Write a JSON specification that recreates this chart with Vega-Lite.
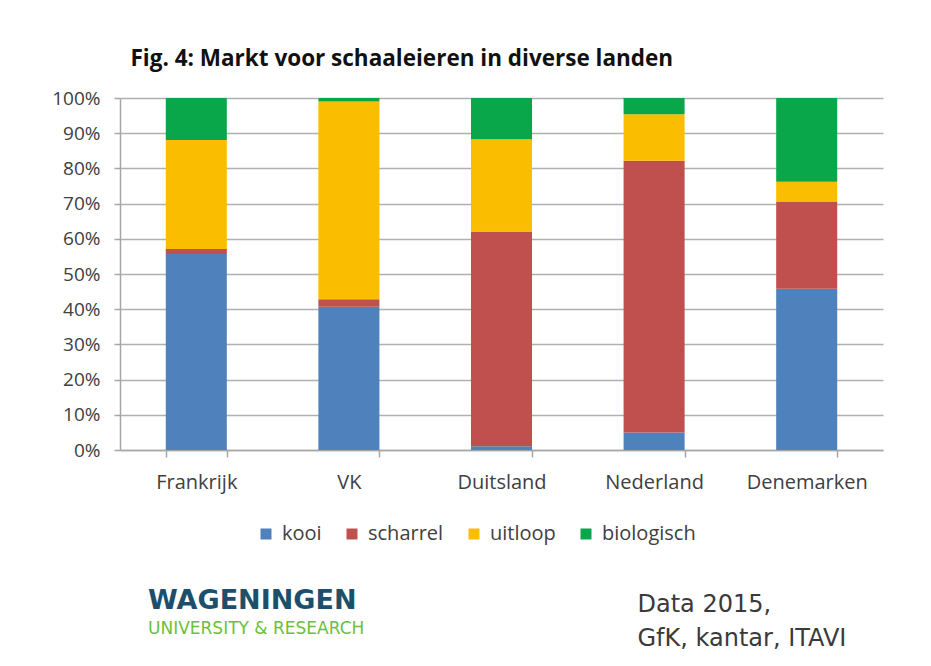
{
  "$schema": "https://vega.github.io/schema/vega-lite/v6.json",
  "width": 763,
  "height": 352,
  "autosize": {"type": "none"},
  "padding": {"left": 120, "top": 98, "right": 48, "bottom": 216},
  "background": "white",
  "title": {
    "text": "WAGENINGEN",
    "subtitle": "UNIVERSITY & RESEARCH",
    "orient": "bottom",
    "anchor": "start",
    "frame": "group",
    "offset": 0,
    "dy": -62,
    "dx": 28,
    "font": "DejaVu Sans",
    "fontSize": 27,
    "fontWeight": "bold",
    "color": "#1d4f6c",
    "subtitleFont": "DejaVu Sans",
    "subtitleFontSize": 17,
    "subtitleColor": "#6cbf3a",
    "subtitlePadding": 6
  },
  "data": {
    "values": [
      {"land": "Frankrijk", "type": "kooi", "k": 1, "aandeel": 55.7},
      {"land": "Frankrijk", "type": "scharrel", "k": 2, "aandeel": 1.4},
      {"land": "Frankrijk", "type": "uitloop", "k": 3, "aandeel": 31.0},
      {"land": "Frankrijk", "type": "biologisch", "k": 4, "aandeel": 11.9},
      {"land": "VK", "type": "kooi", "k": 1, "aandeel": 40.7},
      {"land": "VK", "type": "scharrel", "k": 2, "aandeel": 2.1},
      {"land": "VK", "type": "uitloop", "k": 3, "aandeel": 56.2},
      {"land": "VK", "type": "biologisch", "k": 4, "aandeel": 1.0},
      {"land": "Duitsland", "type": "kooi", "k": 1, "aandeel": 1.1},
      {"land": "Duitsland", "type": "scharrel", "k": 2, "aandeel": 61.0},
      {"land": "Duitsland", "type": "uitloop", "k": 3, "aandeel": 26.2},
      {"land": "Duitsland", "type": "biologisch", "k": 4, "aandeel": 11.7},
      {"land": "Nederland", "type": "kooi", "k": 1, "aandeel": 5.0},
      {"land": "Nederland", "type": "scharrel", "k": 2, "aandeel": 77.2},
      {"land": "Nederland", "type": "uitloop", "k": 3, "aandeel": 13.2},
      {"land": "Nederland", "type": "biologisch", "k": 4, "aandeel": 4.6},
      {"land": "Denemarken", "type": "kooi", "k": 1, "aandeel": 45.8},
      {"land": "Denemarken", "type": "scharrel", "k": 2, "aandeel": 24.8},
      {"land": "Denemarken", "type": "uitloop", "k": 3, "aandeel": 5.6},
      {"land": "Denemarken", "type": "biologisch", "k": 4, "aandeel": 23.8}
    ]
  },
  "mark": {"type": "bar"},
  "encoding": {
    "x": {
      "field": "land",
      "type": "nominal",
      "sort": ["Frankrijk", "VK", "Duitsland", "Nederland", "Denemarken"],
      "scale": {"paddingInner": 0.6, "paddingOuter": 0.3},
      "axis": {
        "title": ["Data 2015,", "GfK, kantar, ITAVI"],
        "titleX": 517,
        "titleY": 142,
        "titleAlign": "left",
        "titleAnchor": null,
        "titleBaseline": "top",
        "titleAngle": 0,
        "titleFont": "DejaVu Sans",
        "titleFontSize": 24,
        "titleFontWeight": "normal",
        "titleColor": "#3a3a3a",
        "titleLineHeight": 34,
        "labelAngle": 0,
        "labelFont": "Open Sans",
        "labelFontSize": 20,
        "labelColor": "#404040",
        "labelPadding": 15,
        "tickBand": "extent",
        "tickSize": 7,
        "tickColor": "#a6a6a6",
        "tickWidth": 1.5,
        "domainColor": "#a6a6a6",
        "domainWidth": 1.5
      }
    },
    "y": {
      "field": "aandeel",
      "type": "quantitative",
      "stack": "zero",
      "scale": {"domain": [0, 100], "nice": false},
      "axis": {
        "values": [0, 10, 20, 30, 40, 50, 60, 70, 80, 90, 100],
        "labelExpr": "datum.value + '%'",
        "title": "Fig. 4: Markt voor schaaleieren in diverse landen",
        "titleAngle": 0,
        "titleX": 10,
        "titleY": -40,
        "titleAlign": "left",
        "titleAnchor": null,
        "titleBaseline": "middle",
        "titleFont": "Open Sans",
        "titleFontSize": 22.5,
        "titleFontWeight": "bold",
        "titleColor": "#111111",
        "labelFont": "Open Sans",
        "labelFontSize": 19,
        "labelColor": "#404040",
        "labelPadding": 14,
        "tickSize": 6,
        "tickColor": "#a6a6a6",
        "tickWidth": 1.5,
        "domainColor": "#a6a6a6",
        "domainWidth": 1.5,
        "gridColor": "#b0b0b0",
        "gridWidth": 1.5
      }
    },
    "color": {
      "field": "type",
      "type": "nominal",
      "scale": {
        "domain": ["kooi", "scharrel", "uitloop", "biologisch"],
        "range": ["#4f81bd", "#c0504d", "#fbbd00", "#0aa64a"]
      },
      "legend": {
        "orient": "none",
        "legendX": 136,
        "legendY": 426,
        "direction": "horizontal",
        "title": null,
        "symbolType": "square",
        "symbolSize": 121,
        "symbolStrokeWidth": 0,
        "labelFont": "Open Sans",
        "labelFontSize": 20,
        "labelColor": "#404040",
        "labelOffset": 6,
        "columnPadding": 20
      }
    },
    "order": {"field": "k", "type": "quantitative"}
  },
  "config": {
    "view": {"stroke": null}
  }
}
